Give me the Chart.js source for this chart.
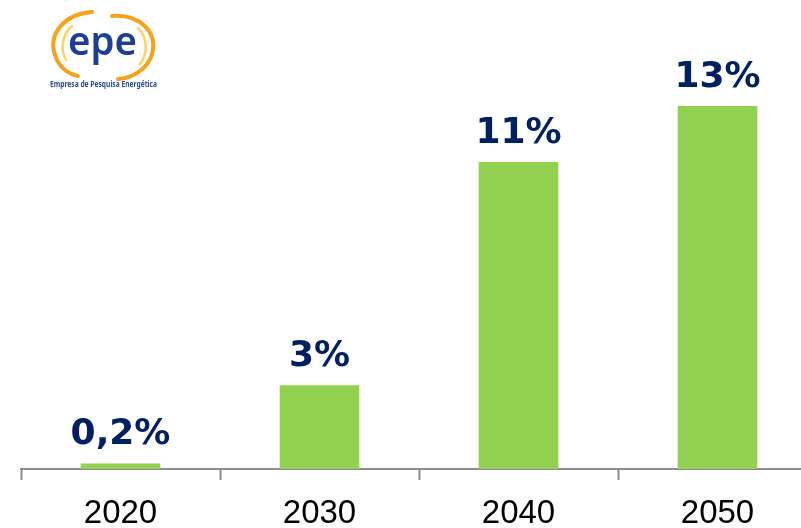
<!DOCTYPE html>
<html>
<head>
<meta charset="utf-8">
<script src="https://cdn.jsdelivr.net/npm/chart.js@4.4.1/dist/chart.umd.min.js"></script>
<style>
  html, body { margin: 0; padding: 0; background: #fff; overflow: hidden; }
  #wrap { position: relative; width: 830px; height: 528px; }
  #logo { position: absolute; left: 0; top: 0; }
</style>
</head>
<body>
<div id="wrap">
  <canvas id="chartEpe" width="830" height="528"></canvas>
  <svg id="logo" width="200" height="100" viewBox="0 0 200 100">
    <!-- orange swooshes round the letters -->
    <path d="M92 12 C64 14 48 34 55 55 C59 67 68 74 78 76" fill="none" stroke="#f6a21a" stroke-width="4" stroke-linecap="round"/>
    <path d="M72 26 C62 34 60 50 66 60" fill="none" stroke="#fcd36a" stroke-width="2.5" stroke-linecap="round"/>
    <path d="M112 16 C140 14 158 32 152 54 C148 68 134 78 118 79" fill="none" stroke="#f6a21a" stroke-width="4" stroke-linecap="round"/>
    <path d="M138 28 C148 38 148 54 140 64" fill="none" stroke="#fcd36a" stroke-width="2.5" stroke-linecap="round"/>
    <text x="68" y="55" font-family="Noto Sans" font-weight="600" font-size="40" fill="#1c3f94" textLength="69" lengthAdjust="spacingAndGlyphs">epe</text>
    <text x="50" y="87" font-family="Noto Sans" font-weight="bold" font-size="8" fill="#2b4a8f" textLength="107" lengthAdjust="spacingAndGlyphs">Empresa de Pesquisa Energética</text>
  </svg>
</div>
<script>
// shares by year
var years = ['2020', '2030', '2040', '2050'];
var shares = [0.2, 3, 11, 13];

// writes the value above each bar, e.g. "0,2%"
var barLabels = {
    id: 'barLabels',
    afterDatasetsDraw: function (chart) {
        var ctx = chart.ctx;
        var meta = chart.getDatasetMeta(0);
        ctx.save();
        ctx.font = 'bold 36px "DejaVu Sans"';
        ctx.fillStyle = '#002060';
        ctx.textAlign = 'center';
        ctx.textBaseline = 'alphabetic';
        meta.data.forEach(function (bar, i) {
            var txt = String(shares[i]).replace('.', ',') + '%';
            ctx.fillText(txt, bar.x, bar.y - 19);
        });
        ctx.restore();
    }
};

var ctx = document.getElementById('chartEpe');
var chartEpe = new Chart(ctx, {
    type: 'bar',
    data: {
        labels: years,
        datasets: [{
            data: shares,
            backgroundColor: '#92d050',
            borderWidth: 0,
            barPercentage: 0.4,
            categoryPercentage: 1.0
        }]
    },
    options: {
        responsive: false,
        animation: false,
        layout: { padding: { left: 21, right: 13, top: 0, bottom: -19 } },
        plugins: {
            legend: { display: false },
            tooltip: { enabled: false }
        },
        scales: {
            x: {
                grid: {
                    display: true,
                    drawOnChartArea: false,
                    drawTicks: true,
                    tickLength: 11,
                    tickWidth: 2,
                    tickColor: '#8c8c8c'
                },
                border: { display: true, color: '#8c8c8c', width: 2 },
                ticks: {
                    color: '#000',
                    padding: 17,
                    font: { family: 'Liberation Sans', size: 33, lineHeight: 1.0 }
                }
            },
            y: {
                display: false,
                min: 0,
                max: 16.8
            }
        }
    },
    plugins: [barLabels]
});
</script>
</body>
</html>
